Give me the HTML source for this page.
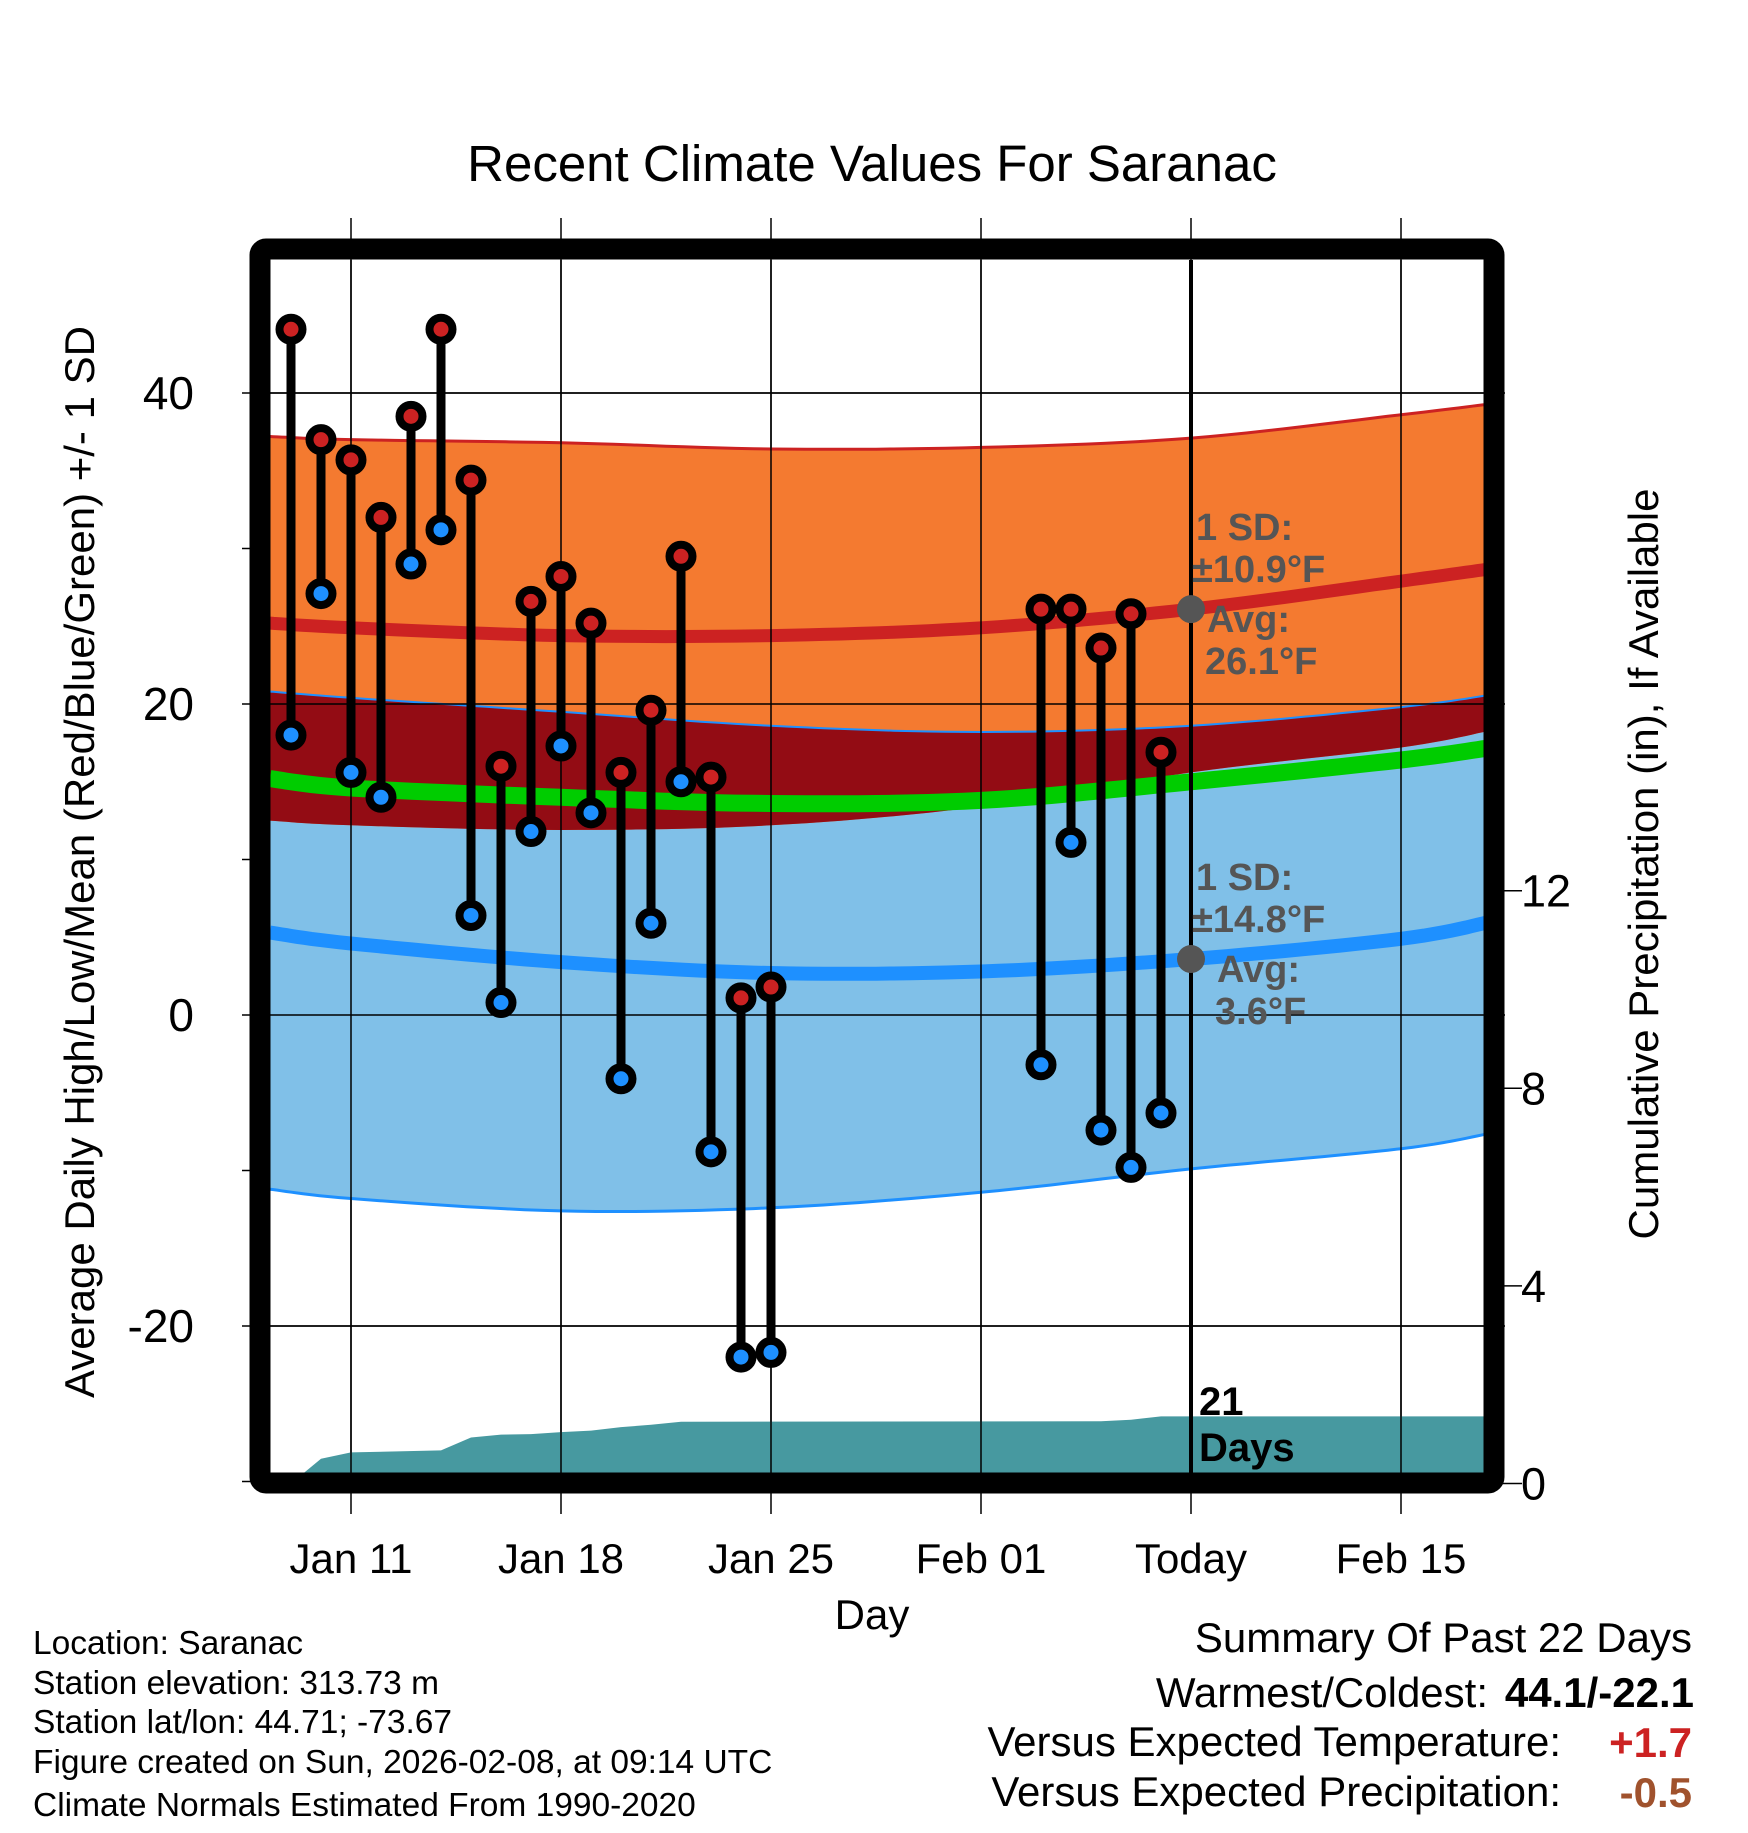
<!DOCTYPE html>
<html><head><meta charset="utf-8">
<style>
html,body{margin:0;padding:0;background:#fff;}
body{width:1748px;height:1828px;overflow:hidden;font-family:"Liberation Sans",sans-serif;}
svg text{font-family:"Liberation Sans",sans-serif;}
</style></head>
<body>
<svg id="chart" width="1748" height="1828" viewBox="0 0 1748 1828" xmlns="http://www.w3.org/2000/svg">
<defs><clipPath id="plotclip"><rect x="270" y="260" width="1214" height="1214"/></clipPath></defs>
<text x="872" y="181" font-size="51" text-anchor="middle">Recent Climate Values For Saranac</text>
<g id="gridBelow"></g>
<g id="plot" clip-path="url(#plotclip)"></g>
<g id="over"></g>
<text x="872" y="1629" font-size="42" text-anchor="middle">Day</text>
<text transform="translate(94,862) rotate(-90)" font-size="42" text-anchor="middle">Average Daily High/Low/Mean (Red/Blue/Green) +/- 1 SD</text>
<text transform="translate(1658,864) rotate(-90)" font-size="42" text-anchor="middle">Cumulative Precipitation (in), If Available</text>
<g font-size="33.5">
<text x="33" y="1654">Location: Saranac</text>
<text x="33" y="1694">Station elevation: 313.73 m</text>
<text x="33" y="1733">Station lat/lon: 44.71; -73.67</text>
<text x="33" y="1773">Figure created on Sun, 2026-02-08, at 09:14 UTC</text>
<text x="33" y="1816">Climate Normals Estimated From 1990-2020</text>
</g>
<g font-size="42">
<text x="1692" y="1652" text-anchor="end">Summary Of Past 22 Days</text>
<text x="1488" y="1707" text-anchor="end">Warmest/Coldest:</text>
<text x="1694" y="1707" text-anchor="end" font-weight="bold">44.1/-22.1</text>
<text x="1561" y="1756" text-anchor="end">Versus Expected Temperature:</text>
<text x="1692" y="1757" text-anchor="end" font-weight="bold" fill="#cc2222">+1.7</text>
<text x="1561" y="1806" text-anchor="end">Versus Expected Precipitation:</text>
<text x="1692" y="1807" text-anchor="end" font-weight="bold" fill="#a0522d">-0.5</text>
</g>
</svg>
<script>
// Daily observations (day offset from Jan 11)
const obsDays = [-2,-1,0,1,2,3,4,5,6,7,8,9,10,11,12,13,14,23,24,25,26,27];
const obsHigh = [44.1,37.0,35.7,32.0,38.5,44.1,34.4,16.0,26.6,28.2,25.2,15.6,19.6,29.5,15.3,1.1,1.8,26.1,26.1,23.6,25.8,16.9];
const obsLow  = [18.0,27.1,15.6,14.0,29.0,31.2,6.4,0.8,11.8,17.3,13.0,-4.1,5.9,15.0,-8.8,-22.0,-21.7,-3.2,11.1,-7.4,-9.8,-6.3];
// Normals sampled at day offsets
const normDays = [-2.7,0,7,14,21,28,35,38];
const highTop = [37.2,37.0,36.8,36.4,36.5,37.1,38.6,39.3];
const highAvg = [25.2,24.9,24.4,24.4,24.9,26.1,27.9,28.7];
const highBot = [12.5,12.2,11.9,12.2,13.4,15.6,17.2,18.3];
const meanAvg = [15.2,14.6,14.0,13.6,13.8,15.0,16.4,17.2];
const lowTop  = [20.8,20.4,19.5,18.6,18.2,18.6,19.8,20.6];
const lowAvg  = [5.3,4.6,3.4,2.7,2.8,3.6,4.9,6.0];
const lowBot  = [-11.2,-11.8,-12.6,-12.4,-11.4,-9.9,-8.6,-7.6];
// Cumulative precipitation
const precipDays = [-2,-1,0,3,4,5,6,7,8,9,10,11,25,26,27,38];
const precipVals = [0,0.5,0.63,0.67,0.93,0.99,1.0,1.04,1.07,1.14,1.19,1.25,1.26,1.29,1.36,1.36];
const xTickDays = [0,7,14,21,28,35];
const xTickLabels = ["Jan 11","Jan 18","Jan 25","Feb 01","Today","Feb 15"];
const yTicks = [40,20,0,-20];
const yMinor = [30,10,-10,-30];
const y2Ticks = [0,4,8,12];
const todayDay = 28;
const avgLabels = [["1 SD:","\u00b110.9\u00b0F","Avg:","26.1\u00b0F"],["1 SD:","\u00b114.8\u00b0F","Avg:","3.6\u00b0F"]];
const avgVals = [26.1,3.6];

const X = d => 351 + 30*d;
const Y = v => 1015 - 15.55*v;
const Y2 = p => 1483.5 - 49.4*p;
const NS = "http://www.w3.org/2000/svg";
function mk(tag, attrs, parent){const e=document.createElementNS(NS,tag);for(const k in attrs)e.setAttribute(k,attrs[k]);parent.appendChild(e);return e;}
const plot=document.getElementById('plot'), grid=document.getElementById('gridBelow'), over=document.getElementById('over');

// Catmull-Rom smoothing of sampled curves
function smooth(arr){
  const out=[];
  const n=normDays.length;
  for(let i=0;i<n-1;i++){
    const p0=i>0?i-1:i, p3=i+2<n?i+2:i+1;
    for(let s=0;s<12;s++){
      const t=s/12,t2=t*t,t3=t2*t;
      const f=(a,b,c,d)=>0.5*((2*b)+(-a+c)*t+(2*a-5*b+4*c-d)*t2+(-a+3*b-3*c+d)*t3);
      const x=f(normDays[p0],normDays[i],normDays[i+1],normDays[p3]);
      const v=f(arr[p0],arr[i],arr[i+1],arr[p3]);
      out.push([X(x),Y(v)]);
    }
  }
  out.push([X(normDays[n-1]),Y(arr[n-1])]);
  return out;
}
function linePts(arr){return smooth(arr).map(p=>p[0].toFixed(1)+','+p[1].toFixed(1)).join(' ');}
function bandPts(top,bot){
  const a=smooth(top).map(p=>p[0].toFixed(1)+','+p[1].toFixed(1));
  const b=smooth(bot).map(p=>p[0].toFixed(1)+','+p[1].toFixed(1)).reverse();
  return a.concat(b).join(' ');
}
let e;
e=mk('polygon',{points:bandPts(lowTop,lowBot),fill:'#80c0e8'},plot);


e=mk('polygon',{points:bandPts(highTop,highBot),fill:'#f47a30'},plot);


e=mk('polygon',{points:bandPts(lowTop,highBot),fill:'#930c14'},plot);


e=mk('polyline',{points:linePts(highTop),fill:'none',stroke:'#cc2222',"stroke-width":3},plot);


e=mk('polyline',{points:linePts(lowTop),fill:'none',stroke:'#1e90ff',"stroke-width":2},plot);


e=mk('polyline',{points:linePts(lowBot),fill:'none',stroke:'#1e90ff',"stroke-width":3},plot);


e=mk('polyline',{points:linePts(highAvg),fill:'none',stroke:'#cc2222',"stroke-width":13},plot);


e=mk('polyline',{points:linePts(meanAvg),fill:'none',stroke:'#00cc00',"stroke-width":17},plot);


e=mk('polyline',{points:linePts(lowAvg),fill:'none',stroke:'#1e90ff',"stroke-width":14},plot);


// precip area
{
  const pts=precipDays.map((d,i)=>X(d)+','+Y2(precipVals[i]));
  pts.push(X(precipDays[precipDays.length-1])+','+1490);
  pts.push(X(precipDays[0])+','+1490);
  e=mk('polygon',{points:pts.join(' '),fill:'#4799a0'},plot);
  
  
}
// grid lines
xTickDays.forEach((d,i)=>{
  e=mk('line',{x1:X(d),x2:X(d),y1:218,y2:1514,stroke:'#000',"stroke-width":1.5},grid);
  
  
  e=mk('text',{x:X(d),y:1573,"font-size":42,"text-anchor":"middle"},over);
  e.textContent=xTickLabels[i];
  
  
});
yTicks.forEach(v=>{
  e=mk('line',{x1:242,x2:1505,y1:Y(v),y2:Y(v),stroke:'#000',"stroke-width":1.5},grid);
  
  
  e=mk('text',{x:194,y:Y(v)+16,"font-size":46,"text-anchor":"end"},over);
  e.textContent=String(v);
  
  
});
yMinor.forEach(v=>{
  e=mk('line',{x1:242,x2:260,y1:Y(v),y2:Y(v),stroke:'#000',"stroke-width":1.5},grid);
  
  
});
y2Ticks.forEach(p=>{
  e=mk('line',{x1:1496,x2:1522,y1:Y2(p),y2:Y2(p),stroke:'#000',"stroke-width":1.5},over);
  
  
  e=mk('text',{x:1521,y:Y2(p)+16,"font-size":45},over);
  e.textContent=String(p);
  
  
});
// redraw gridlines inside plot on top of bands
xTickDays.forEach(d=>{
  e=mk('line',{x1:X(d),x2:X(d),y1:260,y2:1474,stroke:'#000',"stroke-width":1.5},plot);
  
  
});
yTicks.forEach(v=>{
  e=mk('line',{x1:270,x2:1484,y1:Y(v),y2:Y(v),stroke:'#000',"stroke-width":1.5},plot);
  
  
});
// today line
e=mk('line',{x1:X(todayDay),x2:X(todayDay),y1:260,y2:1476,stroke:'#000',"stroke-width":4},plot);


// avg labels
avgVals.forEach((v,k)=>{
  e=mk('circle',{cx:X(todayDay),cy:Y(v),r:14,fill:'#555'},plot);
  
  
  const lines=avgLabels[k];
  const baseY=Y(v);
  const offs=[-81,-39,11,53];
  const xs=[1196,1192,1207,1205];
  lines.forEach((t,j)=>{
    e=mk('text',{x:xs[j]+(j>=2&&k==1?10:0),y:baseY+offs[j]+12,"font-size":38,"font-weight":"bold",fill:'#555'},plot);
    e.textContent=t;
    
    
  });
});
e=mk('text',{x:1199,y:1415,"font-size":40,"font-weight":"bold"},plot);
e.textContent="21";


e=mk('text',{x:1199,y:1461,"font-size":40,"font-weight":"bold"},plot);
e.textContent="Days";


// observation stems and markers
obsDays.forEach((d,i)=>{
  e=mk('line',{x1:X(d),x2:X(d),y1:Y(obsHigh[i]),y2:Y(obsLow[i]),stroke:'#000',"stroke-width":9},plot);
  
  
});
obsDays.forEach((d,i)=>{
  e=mk('circle',{cx:X(d),cy:Y(obsHigh[i]),r:11.5,fill:'#cc2222',stroke:'#000',"stroke-width":8},plot);
  
  
  e=mk('circle',{cx:X(d),cy:Y(obsLow[i]),r:11.5,fill:'#1e90ff',stroke:'#000',"stroke-width":8},plot);
  
  
});
// frame
e=mk('rect',{x:260,y:249,width:1234,height:1234,rx:6,fill:'none',stroke:'#000',"stroke-width":21},over);


</script>
</body></html>
